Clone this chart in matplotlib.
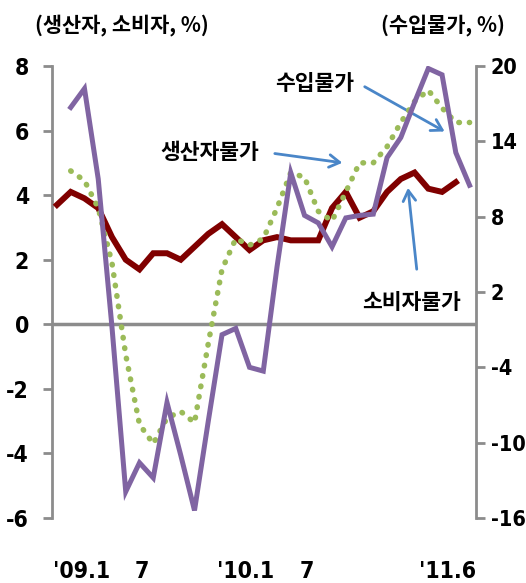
import numpy as np
import matplotlib.pyplot as plt

plt.rcParams['font.family'] = ['DejaVu Sans']
plt.rcParams['font.stretch'] = 'condensed'

# 전년동월대비 등락률(%), '09.1 ~ '11.6
cpi = [3.7, 4.1, 3.9, 3.6, 2.7, 2.0, 1.7, 2.2, 2.2, 2.0, 2.4, 2.8,
       3.1, 2.7, 2.3, 2.6, 2.7, 2.6, 2.6, 2.6, 3.6, 4.1, 3.3, 3.5,
       4.1, 4.5, 4.7, 4.2, 4.1, 4.4]
ppi = [4.75, 4.45, 3.6, 1.9, -0.95, -3.1, -3.7, -2.9, -2.7, -3.05, -0.6, 1.7,
       2.65, 2.45, 2.65, 3.6, 4.7, 4.55, 3.5, 3.2, 4.1, 5.0, 5.0, 5.5,
       6.25, 6.9, 7.25, 6.7, 6.25, 6.25]
imp = [16.7, 18.2, 11.0, -0.8, -13.9, -11.6, -12.8, -6.8, -11.0, -15.4, -8.3, -1.4,
       -0.9, -4.0, -4.3, 4.0, 11.5, 8.1, 7.5, 5.6, 7.9, 8.1, 8.2, 12.7,
       14.3, 17.1, 19.8, 19.3, 13.1, 10.5]

x_cpi = np.arange(len(cpi))
x_other = np.arange(1, len(ppi) + 1)   # 원 차트에서 한 칸 밀려 그려짐

xtick_pos = [1.8, 6.2, 13.7, 18.2, 28.4]
xtick_lab = ["'09.1", "7", "'10.1", "7", "'11.6"]
left_ticks = np.arange(-6, 9, 2)
right_ticks = np.arange(-16, 21, 6)

red = '#800000'
green = '#9BBB59'
purple = '#8064A2'
blue = '#4A86C8'
grey = '#8C8C8C'
kfont = ['Noto Sans CJK KR', 'DejaVu Sans']

fig = plt.figure(figsize=(5.26, 5.83), dpi=100)
ax = fig.add_axes([0.0989, 0.1115, 0.8061, 0.7753])
ax2 = ax.twinx()

ax.axhline(0, color=grey, lw=2.5, zorder=1)
ax.plot(x_cpi, cpi, color=red, lw=4.3, solid_joinstyle='miter', zorder=3)
ax.plot(x_other, ppi, color=green, lw=4.0, linestyle=(0, (0.1, 1.8)),
        dash_capstyle='round', zorder=4)
ax2.plot(x_other, imp, color=purple, lw=3.6, solid_joinstyle='miter', zorder=5)

ax.set_xlim(-0.36, 30.47)
ax.set_ylim(-6, 8)
ax2.set_ylim(-16, 20)
ax.set_yticks(left_ticks)
ax.set_yticklabels([str(t) for t in left_ticks])
ax2.set_yticks(right_ticks)
ax2.set_yticklabels([str(t) for t in right_ticks])
ax.set_xticks(xtick_pos)
ax.set_xticklabels(xtick_lab)

for a in (ax, ax2):
    for s in ('top', 'bottom'):
        a.spines[s].set_visible(False)
ax.spines['right'].set_visible(False)
ax2.spines['left'].set_visible(False)
ax.spines['left'].set_color(grey)
ax.spines['left'].set_linewidth(2)
ax2.spines['right'].set_color(grey)
ax2.spines['right'].set_linewidth(2)

ax.tick_params(axis='y', direction='out', length=6.5, width=2, color=grey,
               labelsize=16.5, pad=10)
ax2.tick_params(axis='y', direction='out', length=6.5, width=2, color=grey,
                labelsize=15.5, pad=4)
ax.tick_params(axis='x', length=0, labelsize=16.5, pad=30)
for lab in ax.get_yticklabels() + ax2.get_yticklabels() + ax.get_xticklabels():
    lab.set_fontweight('bold')

fig.text(0.232, 0.957, '(생산자, 소비자, %)', family=kfont, fontsize=15,
         fontweight='bold', ha='center', va='center')
fig.text(0.842, 0.957, '(수입물가, %)', family=kfont, fontsize=15,
         fontweight='bold', ha='center', va='center')

arrow = dict(arrowstyle='->,head_length=0.75,head_width=0.45', color=blue, lw=2)
ax.text(18.7, 7.47, '수입물가', family=kfont, fontsize=15.5, fontweight='bold',
        ha='center', va='center')
ax.annotate('', xy=(28.36, 5.93), xytext=(22.2, 7.4), arrowprops=arrow)
ax.text(11.13, 5.33, '생산자물가', family=kfont, fontsize=15.5, fontweight='bold',
        ha='center', va='center')
ax.annotate('', xy=(20.95, 4.99), xytext=(15.64, 5.30), arrowprops=arrow)
ax.text(25.8, 0.69, '소비자물가', family=kfont, fontsize=15.5, fontweight='bold',
        ha='center', va='center')
ax.annotate('', xy=(25.5, 4.31), xytext=(26.18, 1.62), arrowprops=arrow)

fig.savefig('out.png', dpi=100)
